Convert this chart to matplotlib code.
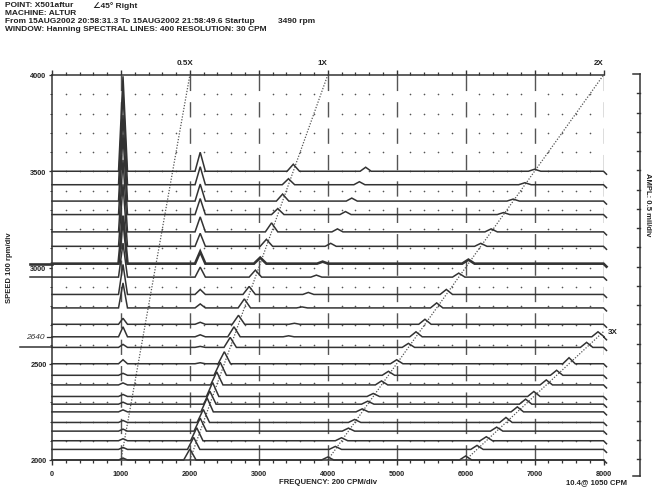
import matplotlib
matplotlib.use("Agg")
import matplotlib.pyplot as plt
from matplotlib.ticker import MultipleLocator

# ---------------- data ----------------
rpm = [3500, 3430, 3345, 3275, 3185, 3110, 3020, 2950, 2860, 2790, 2705, 2640,
       2585, 2500, 2440, 2390, 2330, 2290, 2250, 2195, 2150, 2100, 2055, 2000]
# peak amplitudes (display units) of each component, one value per trace
amp_1x   = [7, 6, 7, 6, 9, 7, 6, 7, 8, 9, 9, 10, 10, 12, 13, 13, 14, 13, 14, 13, 13, 13, 12, 11]
amp_13x  = [4, 3, 3, 3, 3, 3, 2, 2, 2, 1, 1, 1, 0, 0, 0, 0, 0, 0, 0, 0, 0, 0, 0, 0]
amp_2x   = [2, 2, 2, 2, 3, 3, 4, 4, 5, 5, 5, 5, 4, 4, 4, 4, 3, 3, 3, 3, 3, 3, 3, 3]
amp_3x   = [0, 0, 0, 0, 0, 0, 0, 0, 0, 0, 0, 5, 5, 6, 5, 5, 5, 5, 5, 5, 4, 4, 4, 4]
amp_1030 = [95, 92, 86, 80, 72, 62, 48, 34, 30, 25, 6, 10, 3, 4, 2, 2, 2, 2, 2, 2, 2, 2, 2, 2]
amp_2150 = [19, 18, 17, 16, 15, 13, 12, 10, 5, 4, 2, 2, 1, 1, 0, 0, 0, 0, 0, 0, 0, 0, 0, 0]
freq_fixed = [1030, 2150]           # CPM of constant-frequency components
orders = [0.5, 1, 2, 3]
order_labels = ["0.5X", "1X", "2X", "3X"]
x_ticks = [0, 1000, 2000, 3000, 4000, 5000, 6000, 7000, 8000]
y_ticks = [2000, 2500, 3000, 3500, 4000]

# ---------------- figure ----------------
W, H = 654, 489
plt.rcParams["font.family"] = ["Liberation Sans", "DejaVu Sans"]
plt.rcParams["font.weight"] = "bold"
fig = plt.figure(figsize=(W / 100, H / 100), dpi=100)
fig.patch.set_facecolor("white")

L, R, T, B = 52, 603.5, 76, 461
ax = fig.add_axes([L / W, (H - B) / H, (R - L) / W, (B - T) / H])
ax.set_xlim(0, 8000)
ax.set_ylim(2000, 4000)
INK = "#333333"
AMP_SCALE = 2000 / 385.0  # rpm per display unit (1 unit ~ 1 px)
PXX = 8000 / (R - L)      # CPM per pixel

# grid dots and dashed major lines
for r in range(2000, 4000, 100):
    xs = [f for f in range(200, 8000, 200) if f % 1000]
    ax.scatter(xs, [r] * len(xs), s=1.4, color="#555", lw=0, zorder=1)
for f in range(1000, 8001, 1000):
    ax.plot([f, f], [2000, 4000], color="#555", lw=1.0,
            dashes=(11, 8), zorder=1)

# traces
for i, r in enumerate(rpm):
    peaks = [(freq_fixed[0], amp_1030[i], 65), (freq_fixed[1], amp_2150[i], 75),
             (r, amp_1x[i], 90), (1.3 * r, amp_13x[i], 80),
             (2 * r, amp_2x[i], 90), (3 * r, amp_3x[i], 90)]
    peaks = sorted([p for p in peaks if p[1] > 0 and p[0] < 7950])
    xs, ys = [0], [r]
    for f0, a, hw in peaks:
        xs += [f0 - hw, f0, f0 + hw]
        ys += [r, r + a * AMP_SCALE, r]
    xs += [8000, 8000 + 3 * PXX]
    ys += [r, r - 3 * AMP_SCALE]
    lw = 1.9 if i == 6 else 1.1
    ax.plot(xs, ys, color=INK, lw=lw, zorder=3, clip_on=False,
            solid_joinstyle="miter")

# lines extending left of the axis (annotations on the print)
for idx, x0 in [(6, 30), (7, 30), (12, 20)]:
    ax.plot([(x0 - L) * PXX, 0], [rpm[idx]] * 2, color=INK,
            lw=1.9 if idx == 6 else 1.1, clip_on=False)
ax.plot([(47 - L) * PXX, 0], [rpm[11]] * 2, color=INK, lw=0.9, clip_on=False)
ax.text((35 - L) * PXX, rpm[11], "2640", fontsize=6, fontweight="normal",
        style="italic", ha="center", va="center", color=INK, clip_on=False)

# order lines
for o, lab in zip(orders, order_labels):
    r0, r1 = 2000, 4000
    if o * r1 > 8000:
        r1 = 8000 / o
    ax.plot([o * r0, o * r1], [r0, r1], color="#555", lw=0.9,
            ls=(0, (1, 1.3)), zorder=2, clip_on=False)
    if r1 >= 3999:
        ax.text(o * r1 - 5 * PXX, 4000 + 12 * AMP_SCALE, lab, fontsize=5.8,
                ha="center", va="center", color="#222")
    else:
        ax.text(o * r1 + 9 * PXX, r1, lab, fontsize=5.8, ha="center",
                va="center", color="#222")

# axes styling
ax.spines["right"].set_visible(False)
for s in ["left", "bottom", "top"]:
    ax.spines[s].set_color(INK)
    ax.spines[s].set_linewidth(1.1)
ax.set_xticks(x_ticks)
ax.set_xticklabels([str(v) for v in x_ticks])
ax.xaxis.set_minor_locator(MultipleLocator(200))
ax.set_yticks(y_ticks)
ax.set_yticklabels([str(v) for v in y_ticks])
ax.yaxis.set_minor_locator(MultipleLocator(100))
ax.tick_params(axis="x", which="major", top=True, bottom=True, direction="out",
               length=3.6, width=1.0, color=INK, labelsize=5.3, pad=3.5,
               labelcolor="#222")
ax.tick_params(axis="x", which="minor", top=True, bottom=True, direction="out",
               length=2.2, width=0.9, color=INK)
ax.tick_params(axis="y", which="major", direction="out", length=2.5,
               width=0.9, color=INK, labelsize=5.3, pad=1.5, labelcolor="#222")
ax.tick_params(axis="y", which="minor", direction="out", length=1.3,
               width=0.7, color=INK)

# right-hand amplitude scale
xr = (640 - L) * PXX
ytop, ybot = 4005, 2000 - 16 * AMP_SCALE
ax.plot([xr, xr], [ybot, ytop], color=INK, lw=1.1, clip_on=False)
for yy in [ytop, ybot]:
    ax.plot([xr - 7 * PXX, xr], [yy, yy], color=INK, lw=1.1, clip_on=False)
for k in range(1, 21):
    yy = ytop - k * 100
    ax.plot([xr - 3.5 * PXX, xr], [yy, yy], color=INK, lw=1.0, clip_on=False)

# texts
def ftext(x, y, s, **kw):
    fig.text(x / W, 1 - y / H, s, color="#222", **kw)

HF = 6.0
ftext(5, 2, "POINT: X501aftur", fontsize=HF, va="top")
ftext(93, 2, "\u222045\u00b0 Right", fontsize=HF, va="top")
ftext(5, 10, "MACHINE: ALTUR", fontsize=HF, va="top")
ftext(5, 18, "From 15AUG2002 20:58:31.3 To 15AUG2002 21:58:49.6 Startup",
      fontsize=HF, va="top")
ftext(278, 18, "3490 rpm", fontsize=HF, va="top")
ftext(5, 26, "WINDOW: Hanning SPECTRAL LINES: 400 RESOLUTION: 30 CPM",
      fontsize=HF, va="top")
ftext(328, 483, "FREQUENCY: 200 CPM/div", fontsize=5.6, ha="center", va="center")
ftext(596, 483, "10.4@ 1050 CPM", fontsize=5.6, ha="center", va="center")
ftext(10, 268, "SPEED 100 rpm/div", fontsize=5.5, rotation=90,
      ha="center", va="center")
ftext(648, 205, "AMPL: 0.5 mil/div", fontsize=5.5, rotation=270,
      ha="center", va="center")

fig.savefig("out.png", dpi=100, facecolor="white")
